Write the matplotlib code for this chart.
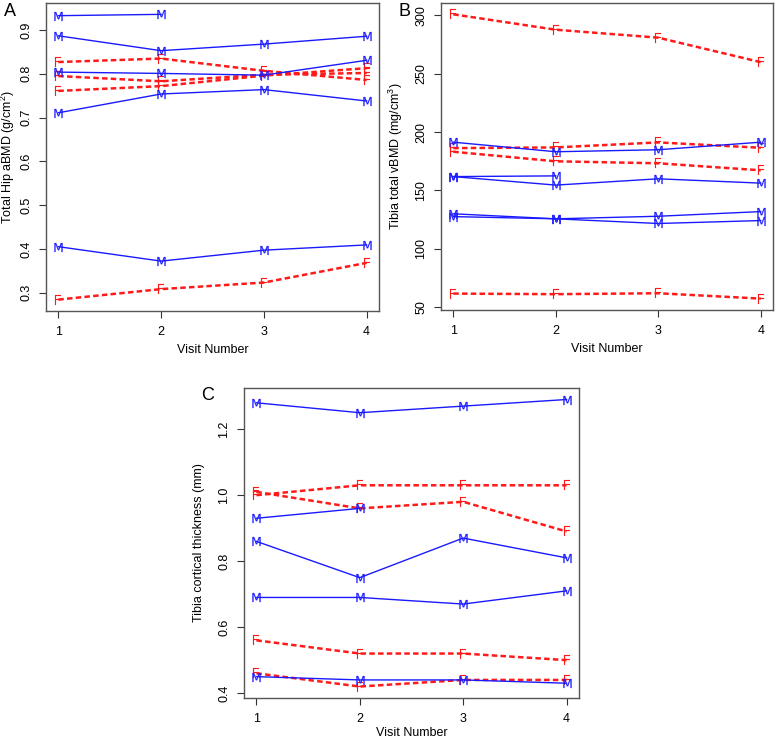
import matplotlib
matplotlib.use("Agg")
import matplotlib.pyplot as plt

plt.rcParams['font.family'] = ['Liberation Sans', 'DejaVu Sans']
plt.rcParams['mathtext.default'] = 'regular'

visits = [1, 2, 3, 4]

# panel A: total hip aBMD (g/cm2)
hip_m = [
    [0.933, 0.936, None, None],
    [0.887, 0.853, 0.868, 0.886],
    [0.804, 0.801, 0.797, 0.831],
    [0.711, 0.754, 0.764, 0.738],
    [0.405, 0.372, 0.397, 0.409],
]
hip_f = [
    [0.827, 0.835, 0.807, 0.786],
    [0.795, 0.783, 0.798, 0.802],
    [0.761, 0.772, 0.796, 0.813],
    [0.284, 0.308, 0.323, 0.368],
]

# panel B: tibia total vBMD (mg/cm3)
vbmd_m = [
    [191.4, 183.2, 184.9, 191.4],
    [161.9, 162.5, None, None],
    [161.9, 154.6, 160.0, 156.3],
    [130.0, 125.7, 127.9, 131.9],
    [127.6, 125.7, 121.7, 124.2],
]
vbmd_f = [
    [301.0, 287.8, 281.0, 260.0],
    [186.3, 186.9, 191.2, 186.6],
    [183.2, 175.0, 173.3, 167.3],
    [61.6, 61.1, 61.9, 57.3],
]

# panel C: tibia cortical thickness (mm)
ct_m = [
    [1.28, 1.25, 1.27, 1.29],
    [0.93, 0.96, None, None],
    [0.86, 0.75, 0.87, 0.81],
    [0.69, 0.69, 0.67, 0.71],
    [0.45, 0.44, 0.44, 0.43],
]
ct_f = [
    [1.00, 1.03, 1.03, 1.03],
    [1.01, 0.96, 0.98, 0.89],
    [0.56, 0.52, 0.52, 0.50],
    [0.46, 0.42, 0.44, 0.44],
]

BLUE = '#1a1aff'
RED = '#ff1a1a'


def draw_panel(ax, males, females, yticks, ylabel, ylabel_x, xlabel_y):
    allv = []
    for s in males:
        xs = [v for v, y in zip(visits, s) if y is not None]
        ys = [y for y in s if y is not None]
        allv += ys
        ax.plot(xs, ys, color=BLUE, lw=1.0, marker=r'$\mathsf{M}$',
                markersize=6.5, markeredgewidth=0.1, markerfacecolor=BLUE,
                markeredgecolor=BLUE, zorder=3)
    for s in females:
        allv += s
        ax.plot(visits, s, color=RED, lw=1.8, dashes=(2.2, 1.3),
                marker=r'$\mathsf{F}$', markersize=7.5, markeredgewidth=0.1,
                markerfacecolor=RED, markeredgecolor=RED, zorder=2)
    lo, hi = min(allv), max(allv)
    pad = (hi - lo) * 0.04
    ax.set_ylim(lo - pad, hi + pad)
    ax.set_xlim(0.88, 4.12)
    ax.set_xticks(visits)
    ax.set_yticks(yticks)
    ax.set_yticklabels([str(t) for t in yticks])
    ax.tick_params(axis='both', direction='out', length=5, width=0.8,
                   labelsize=9, color='#333333')
    ax.tick_params(axis='y', labelrotation=90, pad=5)
    for lab in ax.get_yticklabels():
        lab.set_va('center')
    ax.tick_params(axis='x', pad=6)
    for sp in ax.spines.values():
        sp.set_color('#555555')
        sp.set_linewidth(1.0)
    ax.set_xlabel('Visit Number', fontsize=9)
    ax.xaxis.set_label_coords(0.5, xlabel_y)
    ax.set_ylabel(ylabel, fontsize=9)
    ax.yaxis.set_label_coords(ylabel_x, 0.5)


fig = plt.figure(figsize=(7.78, 7.37), dpi=100)
axA = fig.add_axes([0.0591, 0.578, 0.428, 0.418])
axB = fig.add_axes([0.5668, 0.5794, 0.4268, 0.4166])
axC = fig.add_axes([0.3136, 0.0529, 0.4306, 0.4206])

draw_panel(axA, hip_m, hip_f, [0.3, 0.4, 0.5, 0.6, 0.7, 0.8, 0.9],
           'Total Hip aBMD (g/cm$^{2}$)', -0.087, -0.108)
draw_panel(axB, vbmd_m, vbmd_f, [50, 100, 150, 200, 250, 300],
           'Tibia total vBMD (mg/cm$^{3}$)', -0.108, -0.108)
draw_panel(axC, ct_m, ct_f, [0.4, 0.6, 0.8, 1.0, 1.2],
           'Tibia cortical thickness (mm)', -0.116, -0.092)

fig.text(10 / 778, 1 - 12 / 737, 'A', fontsize=13, ha='center', va='center')
fig.text(405 / 778, 1 - 12 / 737, 'B', fontsize=13, ha='center', va='center')
fig.text(208 / 778, 1 - 396 / 737, 'C', fontsize=13, ha='center', va='center')

fig.savefig('out.png', dpi=100)
